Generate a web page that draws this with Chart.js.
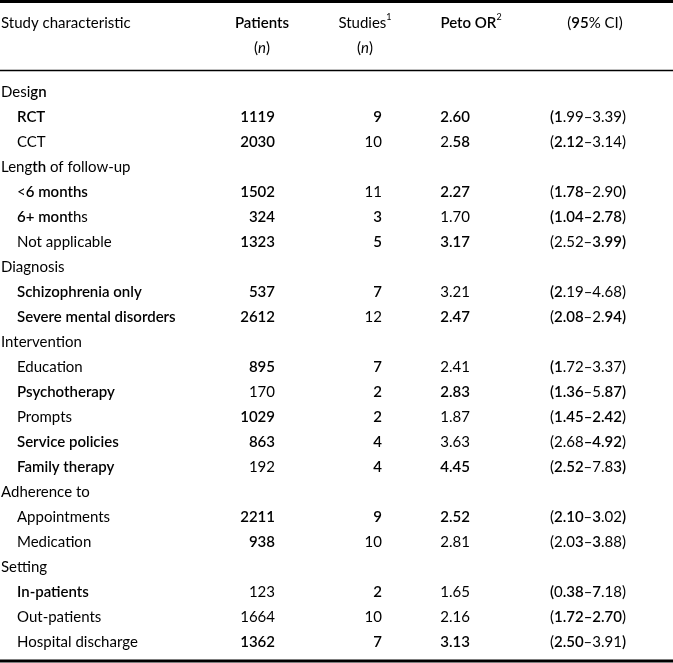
<!DOCTYPE html>
<html>
<head>
<meta charset="utf-8">
<script src="https://cdn.jsdelivr.net/npm/chart.js@4"></script>
<style>
  html, body { margin: 0; padding: 0; background: #fff; }
  #wrap { width: 673px; height: 663px; position: relative; }
</style>
</head>
<body>
<div id="wrap"><canvas id="tbl"></canvas></div>
<script>
// table content
const labels = ['Design', 'RCT', 'CCT', 'Length of follow-up', '<6 months', '6+ months', 'Not applicable',
  'Diagnosis', 'Schizophrenia only', 'Severe mental disorders', 'Intervention', 'Education', 'Psychotherapy',
  'Prompts', 'Service policies', 'Family therapy', 'Adherence to', 'Appointments', 'Medication',
  'Setting', 'In-patients', 'Out-patients', 'Hospital discharge'];
const isGroup = [1, 0, 0, 1, 0, 0, 0, 1, 0, 0, 1, 0, 0, 0, 0, 0, 1, 0, 0, 1, 0, 0, 0];
const patients = [null, 1119, 2030, null, 1502, 324, 1323, null, 537, 2612, null, 895, 170, 1029, 863, 192,
  null, 2211, 938, null, 123, 1664, 1362];
const studies = [null, 9, 10, null, 11, 3, 5, null, 7, 12, null, 7, 2, 2, 4, 4, null, 9, 10, null, 2, 10, 7];
const petoOR = [null, 2.60, 2.58, null, 2.27, 1.70, 3.17, null, 3.21, 2.47, null, 2.41, 2.83, 1.87, 3.63, 4.45,
  null, 2.52, 2.81, null, 1.65, 2.16, 3.13];
const ciLow = [null, 1.99, 2.12, null, 1.78, 1.04, 2.52, null, 2.19, 2.08, null, 1.72, 1.36, 1.45, 2.68, 2.52,
  null, 2.10, 2.03, null, 0.38, 1.72, 2.50];
const ciHigh = [null, 3.39, 3.14, null, 2.90, 2.78, 3.99, null, 4.68, 2.94, null, 3.37, 5.87, 2.42, 4.92, 7.83,
  null, 3.02, 3.88, null, 7.18, 2.70, 3.91];

// weight of the printed text (0 normal, 1 bold, or a per-character mask where # is bold)
const labelWeight = ['....##', 1, 0, '....##', '.########', '#######..', 0, 0, 1, 1, 0, 0, 1, 0, 1, 1, 0, 0, 0, 0, 1, 0, 0];
const patientsWeight = [0, 1, 1, 0, 1, 1, 1, 0, 1, 1, 0, 1, 0, 1, 1, 0, 0, 1, 1, 0, 0, 0, 1];
const studiesWeight = [0, 1, 0, 0, 0, 1, 1, 0, 1, 0, 0, 1, 1, 1, 1, 1, 0, 1, 0, 0, 1, 0, 1];
const petoWeight = [0, 1, '..##', 0, 1, 0, 1, 0, 0, 1, 0, 0, 1, 0, 0, 1, 0, 1, 0, 0, 0, 0, 1];
const ciWeight = [0, '##', '.####', 0, '.####.....#', '##########', '......#####', 0, '##', '.####...###', 0,
  '##', '#####...###', '.#########', '.....#####', '.####....##', 0, '.####.#...#', '....#.#', 0,
  '#.###.#', '.#########', '.####.....#'];

// layout: column anchors in canvas units, rows are indexes
const FONT = 'Lato, "Open Sans", sans-serif';
const SIZE = 15;
const BOLD = 600;
const COL = { group: 1, item: 17, patients: 275, studies: 382, peto: 470, ci: 626 };
const HEAD = { label: 1, patients: 262, studies: 365, peto: 471, ci: 595 };
const ROW0 = 92, ROWH = 25, H = 663;
const yMin = -ROW0 / ROWH, yMax = yMin + H / ROWH;
const px2row = (p) => yMin + p / ROWH;

function segs(text, w) {
  const out = [];
  for (let i = 0; i < text.length; i++) {
    const b = w === 1 ? true : (typeof w === 'string' ? w[i] === '#' : false);
    const last = out[out.length - 1];
    if (last && last.b === b) last.t += text[i];
    else out.push({ t: text[i], b });
  }
  return out;
}

function font(s) {
  const size = s.sup ? SIZE * 0.6 : SIZE;
  return `${s.i ? 'italic ' : ''}${s.b ? BOLD : 400} ${size}px ${FONT}`;
}

function drawRich(ctx, parts, x, y, align) {
  let total = 0;
  parts.forEach((s) => { ctx.font = font(s); s.w = ctx.measureText(s.t).width; total += s.w; });
  let cx = align === 'right' ? x - total : align === 'center' ? x - total / 2 : x;
  parts.forEach((s) => {
    ctx.font = font(s);
    ctx.fillText(s.t, cx, s.sup ? y - SIZE * 0.38 : y);
    cx += s.w;
  });
}

const fmt2 = (v) => v.toFixed(2);
const columns = [
  { key: 'label', text: (i) => labels[i], weight: labelWeight, align: 'left', x: (i) => isGroup[i] ? COL.group : COL.item },
  { key: 'patients', text: (i) => String(patients[i]), weight: patientsWeight, align: 'right', x: () => COL.patients },
  { key: 'studies', text: (i) => String(studies[i]), weight: studiesWeight, align: 'right', x: () => COL.studies },
  { key: 'peto', text: (i) => fmt2(petoOR[i]), weight: petoWeight, align: 'right', x: () => COL.peto },
  { key: 'ci', text: (i) => `(${fmt2(ciLow[i])}\u2013${fmt2(ciHigh[i])})`, weight: ciWeight, align: 'right', x: () => COL.ci }
];

const header = [
  { x: HEAD.label, row: px2row(23), align: 'left', parts: [{ t: 'Study characteristic' }] },
  { x: HEAD.patients, row: px2row(23), align: 'center', parts: [{ t: 'Patients', b: true }] },
  { x: HEAD.patients, row: px2row(48), align: 'center', parts: [{ t: '(' }, { t: 'n', i: true }, { t: ')' }] },
  { x: HEAD.studies, row: px2row(23), align: 'center', parts: [{ t: 'Studies' }, { t: '1', sup: true }] },
  { x: HEAD.studies, row: px2row(48), align: 'center', parts: [{ t: '(' }, { t: 'n', i: true }, { t: ')' }] },
  { x: HEAD.peto, row: px2row(23), align: 'center', parts: [{ t: 'Peto OR', b: true }, { t: '2', sup: true }] },
  { x: HEAD.ci, row: px2row(23), align: 'center', parts: [{ t: '(' }, { t: '95', b: true }, { t: '% CI)' }] }
];
const rules = [{ row: px2row(1.5), w: 3 }, { row: px2row(70.5), w: 1.5 }, { row: px2row(661), w: 3 }];

const tablePlugin = {
  id: 'tableText',
  afterDatasetsDraw(chart) {
    const { ctx, scales: { x, y } } = chart;
    ctx.save();
    ctx.fillStyle = '#000';
    ctx.textBaseline = 'middle';
    ctx.strokeStyle = '#000';
    rules.forEach((r) => {
      const py = y.getPixelForValue(r.row);
      ctx.lineWidth = r.w;
      ctx.beginPath();
      ctx.moveTo(x.getPixelForValue(0), py);
      ctx.lineTo(x.getPixelForValue(673), py);
      ctx.stroke();
    });
    header.forEach((h) => {
      drawRich(ctx, h.parts.map((p) => ({ ...p })), x.getPixelForValue(h.x), y.getPixelForValue(h.row), h.align);
    });
    chart.data.datasets.forEach((ds, d) => {
      const col = columns[d];
      chart.getDatasetMeta(d).data.forEach((pt, k) => {
        const i = ds.data[k].row;
        drawRich(ctx, segs(col.text(i), col.weight[i]), pt.x, pt.y, col.align);
      });
    });
    ctx.restore();
  }
};

function build() {
  const datasets = columns.map((col) => ({
    label: col.key,
    data: labels.map((_, i) => ({ x: col.x(i), y: i, row: i }))
      .filter((p) => col.key === 'label' || patients[p.row] !== null),
    pointRadius: 0
  }));
  new Chart(document.getElementById('tbl'), {
    type: 'scatter',
    data: { datasets },
    plugins: [tablePlugin],
    options: {
      animation: false,
      responsive: true,
      maintainAspectRatio: false,
      layout: { padding: 0 },
      events: [],
      plugins: { legend: { display: false }, tooltip: { enabled: false } },
      scales: {
        x: { type: 'linear', display: false, min: 0, max: 673 },
        y: { type: 'linear', display: false, min: yMin, max: yMax, reverse: true }
      }
    }
  });
}

Promise.all([document.fonts.load(`400 ${SIZE}px Lato`), document.fonts.load(`${BOLD} ${SIZE}px Lato`),
  document.fonts.load(`italic 400 ${SIZE}px Lato`)]).then(build, build);
</script>
</body>
</html>
